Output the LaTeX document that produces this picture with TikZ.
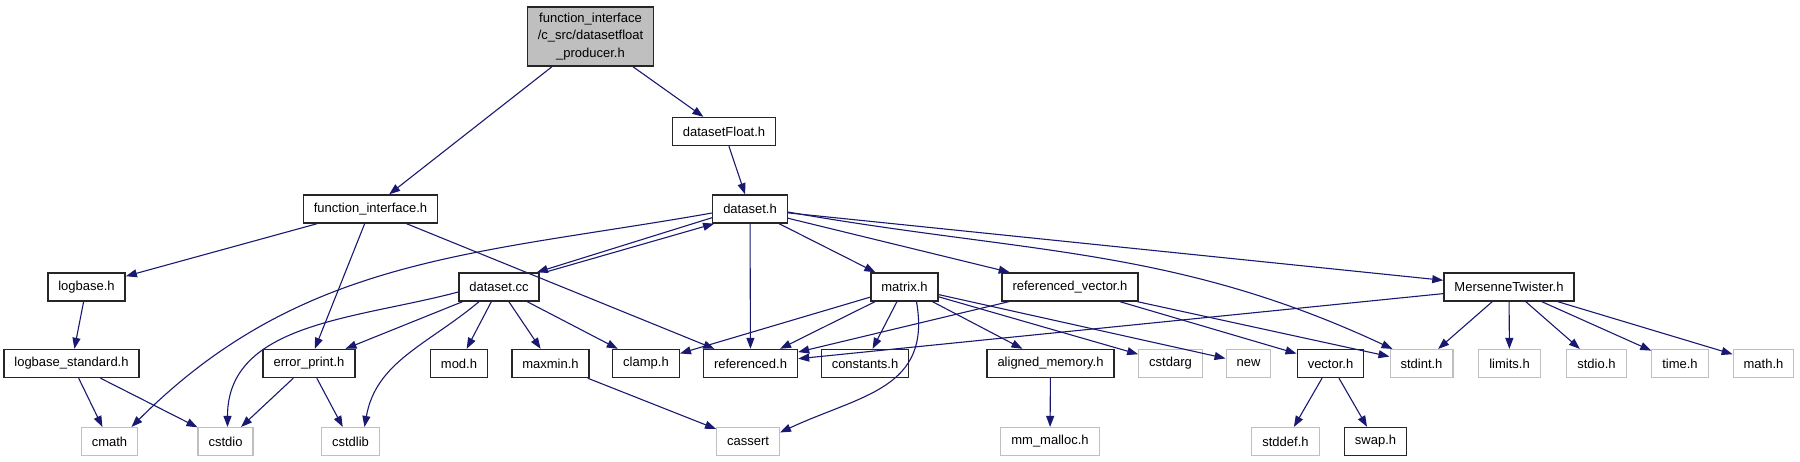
\documentclass[tikz,border=0pt]{standalone}
\usepackage{fontspec}
\setmainfont{Liberation Sans}
\usetikzlibrary{arrows.meta}

\definecolor{edgeblue}{HTML}{191970}
\definecolor{sysgrey}{HTML}{BFBFBF}

\begin{document}
\begin{tikzpicture}[
  x=1pt, y=-1pt,
  font=\fontsize{13}{17.5}\selectfont, >={Triangle[length=11pt,width=8pt]},
  hdr/.style={draw=black!85, line width=1.4pt, inner xsep=10.5pt, inner ysep=0pt,
              minimum height=28pt, fill=white},
  ext/.style={hdr, draw=sysgrey, line width=1.1pt},
  rootf/.style={hdr, fill=sysgrey, align=center, inner ysep=6pt},
  dep/.style={->, line width=1.1pt, draw=edgeblue},
]
\useasboundingbox (0,0) rectangle (1800,461);
% root
\node[rootf] (root) at (590.5,36.5) {function\_interface\\/c\_src/datasetfloat\\\_producer.h};
% level 1
\node[hdr] (dsf) at (724,131.5) {datasetFloat.h};
% level 2
\node[hdr] (fi) at (370.5,209) {function\_interface.h};
\node[hdr] (ds) at (750,209) {dataset.h};
% level 3
\node[hdr] (lb)   at (86.5,287)  {logbase.h};
\node[hdr] (dscc) at (499,287)   {dataset.cc};
\node[hdr] (mat)  at (904.5,287) {matrix.h};
\node[hdr] (rv)   at (1070,287)  {referenced\_vector.h};
\node[hdr] (mt)   at (1509,287)  {MersenneTwister.h};
% level 4
\node[hdr] (lbs)   at (71.5,363.5)   {logbase\_standard.h};
\node[hdr] (ep)    at (309,363.5)    {error\_print.h};
\node[hdr] (mod)   at (459,363.5)    {mod.h};
\node[hdr] (mmx)   at (550.5,363.5)  {maxmin.h};
\node[hdr] (clamp) at (646,363.5)    {clamp.h};
\node[hdr] (ref)   at (750.5,363.5)  {referenced.h};
\node[hdr] (cst)   at (865,363.5)    {constants.h};
\node[hdr] (am)    at (1050.5,363.5) {aligned\_memory.h};
\node[ext] (carg)  at (1170.5,363.5) {cstdarg};
\node[ext] (new)   at (1248.5,363.5) {new};
\node[hdr] (vec)   at (1330.5,363.5) {vector.h};
\node[ext] (sint)  at (1421.5,363.5) {stdint.h};
\node[ext] (lim)   at (1509.5,363.5) {limits.h};
\node[ext] (sio)   at (1596.5,363.5) {stdio.h};
\node[ext] (tim)   at (1680,363.5)   {time.h};
\node[ext] (mth)   at (1763.5,363.5) {math.h};
% level 5
\node[ext] (cmath) at (109.5,441.5)  {cmath};
\node[ext] (cio)   at (225.5,441.5)  {cstdio};
\node[ext] (clib)  at (350.5,441.5)  {cstdlib};
\node[ext] (cas)   at (748,441.5)    {cassert};
\node[ext] (mmal)  at (1050,441.5)   {mm\_malloc.h};
\node[ext] (sdef)  at (1285.5,441.5) {stddef.h};
\node[hdr] (swp)   at (1375.5,441.5) {swap.h};

% includes of the root file
\draw[dep] (root) -- (fi);
\draw[dep] (root) -- (dsf);
\draw[dep] (dsf) -- (ds);
% function_interface.h
\draw[dep] (fi) -- (lb);
\draw[dep] (fi) -- (ep);
\draw[dep] (fi) -- (ref);
% dataset.h (and the cycle with dataset.cc)
\draw[dep] ([yshift=6pt]ds.south west) -- ([xshift=-3pt]dscc.north east);
\draw[dep] ([xshift=5pt]dscc.north east) -- ([xshift=2pt]ds.south west);
\draw[dep] ([yshift=-4pt]ds.west) to[out=190,in=45] ([xshift=22pt]cmath.north);
\draw[dep] (ds) -- (ref);
\draw[dep] (ds) -- (mat);
\draw[dep] (ds) -- (rv);
\draw[dep] ([yshift=-3pt]ds.east) to[out=-10,in=155] ([xshift=3pt]sint.north west);
\draw[dep] (ds) -- (mt);
% logbase
\draw[dep] (lb) -- (lbs);
\draw[dep] (lbs) -- (cmath);
\draw[dep] (lbs) -- (cio);
% dataset.cc
\draw[dep] ([yshift=-5pt]dscc.west) to[out=195,in=90] ([xshift=2pt]cio.north);
\draw[dep] (dscc) -- (ep);
\draw[dep] ([xshift=-20pt]dscc.south) to[out=220,in=80] ([xshift=14pt]clib.north);
\draw[dep] (dscc) -- (mod);
\draw[dep] (dscc) -- (mmx);
\draw[dep] (dscc) -- (clamp);
% error_print.h, maxmin.h
\draw[dep] (ep) -- (cio);
\draw[dep] (ep) -- (clib);
\draw[dep] (mmx) -- (cas);
% matrix.h
\draw[dep] (mat) -- (clamp);
\draw[dep] (mat) -- (ref);
\draw[dep] (mat) -- (cst);
\draw[dep] ([xshift=12pt]mat.south) to[out=-80,in=25,looseness=1.2] ([yshift=9pt]cas.east);
\draw[dep] (mat) -- (am);
\draw[dep] (mat) -- (carg);
\draw[dep] (mat) -- (new);
% referenced_vector.h
\draw[dep] (rv) -- (ref);
\draw[dep] (rv) -- (vec);
\draw[dep] (rv) -- (sint);
% MersenneTwister.h
\draw[dep] (mt) -- (ref);
\draw[dep] (mt) -- (sint);
\draw[dep] (mt) -- (lim);
\draw[dep] (mt) -- (sio);
\draw[dep] (mt) -- (tim);
\draw[dep] (mt) -- (mth);
% leaves
\draw[dep] (am) -- (mmal);
\draw[dep] (vec) -- (sdef);
\draw[dep] (vec) -- (swp);
\end{tikzpicture}
\end{document}
